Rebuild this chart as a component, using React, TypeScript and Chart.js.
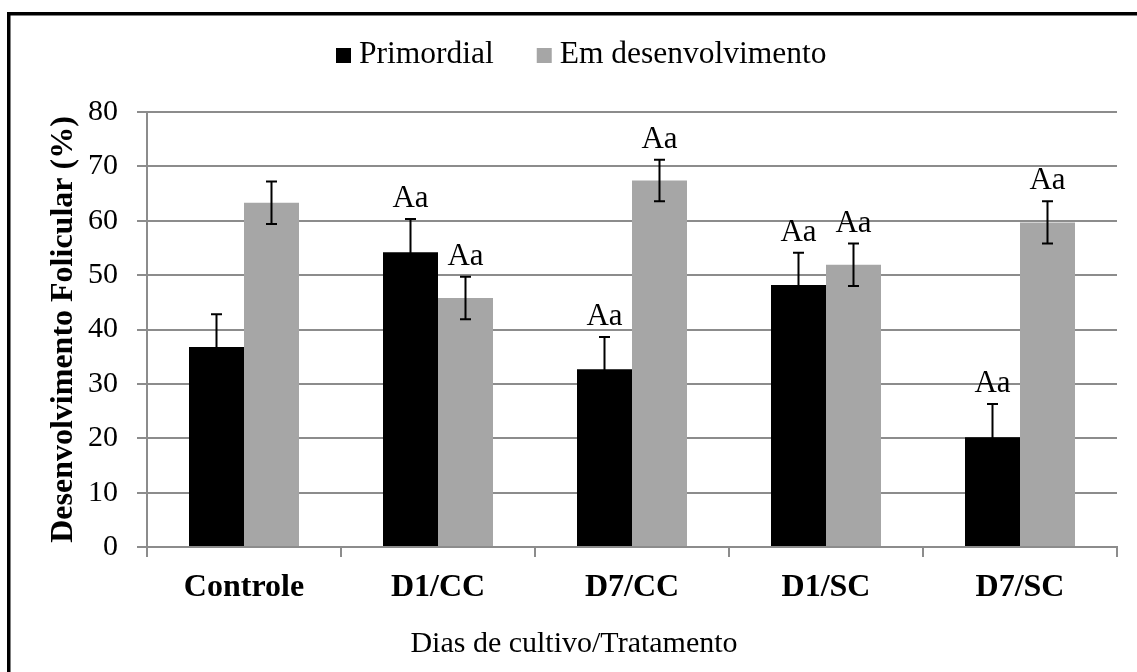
import React, { useEffect, useRef } from 'react';
import { Chart, registerables } from 'chart.js';

Chart.register(...registerables);

const categories = ['Controle', 'D1/CC', 'D7/CC', 'D1/SC', 'D7/SC'];
const seriesNames = ['Primordial', 'Em desenvolvimento'];
const primordial = [36.8, 54.2, 32.7, 48.2, 20.2];
const primordialErr = [6.0, 6.1, 5.9, 5.9, 6.1];
const emDesenvolvimento = [63.3, 45.8, 67.4, 51.9, 59.7];
const emDesenvolvimentoErr = [3.9, 3.9, 3.8, 3.9, 3.9];
const primordialLabels = ['', 'Aa', 'Aa', 'Aa', 'Aa'];
const emDesenvolvimentoLabels = ['', 'Aa', 'Aa', 'Aa', 'Aa'];
const yMin = 0;
const yMax = 80;
const yStep = 10;
const xTitle = 'Dias de cultivo/Tratamento';
const yTitle = 'Desenvolvimento Folicular (%)';

const seriesColors = ['#000000', '#a6a6a6'];
const errors = [primordialErr, emDesenvolvimentoErr];
const pointLabels = [primordialLabels, emDesenvolvimentoLabels];
const FONT = '"Liberation Serif", "Times New Roman", serif';
const GRID = '#8c8c8c';

const framePlugin = {
  id: 'frame',
  beforeDraw(chart: any) {
    const ctx = chart.ctx;
    ctx.save();
    ctx.fillStyle = '#ffffff';
    ctx.fillRect(0, 0, chart.width, chart.height);
    ctx.fillStyle = '#000000';
    ctx.fillRect(7, 12, 3.5, chart.height);
    ctx.fillRect(7, 12, chart.width, 3.5);
    ctx.restore();
  },
};

const annotPlugin = {
  id: 'annot',
  afterDatasetsDraw(chart: any) {
    const ctx = chart.ctx;
    const y = chart.scales.y;
    chart.data.datasets.forEach((ds: any, di: number) => {
      const meta = chart.getDatasetMeta(di);
      meta.data.forEach((bar: any, i: number) => {
        const v = ds.data[i];
        const e = errors[di][i];
        const x = bar.x;
        const yt = y.getPixelForValue(v + e);
        const yb = y.getPixelForValue(v - e);
        ctx.save();
        ctx.strokeStyle = '#000000';
        ctx.lineWidth = 2;
        ctx.beginPath();
        ctx.moveTo(x, yt);
        ctx.lineTo(x, yb);
        ctx.moveTo(x - 5.5, yt);
        ctx.lineTo(x + 5.5, yt);
        ctx.moveTo(x - 5.5, yb);
        ctx.lineTo(x + 5.5, yb);
        ctx.stroke();
        const lab = pointLabels[di][i];
        if (lab) {
          ctx.font = `31px ${FONT}`;
          ctx.fillStyle = '#000000';
          ctx.textAlign = 'center';
          ctx.textBaseline = 'alphabetic';
          ctx.fillText(lab, x, yt - 12);
        }
        ctx.restore();
      });
    });
  },
  afterDraw(chart: any) {
    const ctx = chart.ctx;
    ctx.save();
    ctx.font = `31.5px ${FONT}`;
    ctx.textAlign = 'left';
    ctx.textBaseline = 'alphabetic';
    let x = 336;
    chart.data.datasets.forEach((ds: any) => {
      ctx.fillStyle = ds.backgroundColor;
      ctx.fillRect(x, 48, 15, 15);
      ctx.fillStyle = '#000000';
      ctx.fillText(ds.label, x + 23, 63);
      x = x + 23 + ctx.measureText(ds.label).width + 43;
    });
    ctx.font = `30px ${FONT}`;
    ctx.textAlign = 'center';
    ctx.fillText(xTitle, 574, 652);
    ctx.restore();
  },
};

export default function App() {
  const ref = useRef<HTMLCanvasElement | null>(null);
  useEffect(() => {
    if (!ref.current) return;
    const chart = new Chart(ref.current, {
      type: 'bar',
      data: {
        labels: categories,
        datasets: [
          {
            label: seriesNames[0],
            data: primordial,
            backgroundColor: seriesColors[0],
            categoryPercentage: 0.567,
            barPercentage: 1,
          },
          {
            label: seriesNames[1],
            data: emDesenvolvimento,
            backgroundColor: seriesColors[1],
            categoryPercentage: 0.567,
            barPercentage: 1,
          },
        ],
      },
      options: {
        responsive: false,
        animation: false,
        devicePixelRatio: 1,
        layout: { padding: { left: 42, right: 20, top: 112, bottom: 8 } },
        plugins: {
          legend: { display: false },
          tooltip: { enabled: false },
        },
        scales: {
          x: {
            afterFit: (s: any) => {
              s.height = 117;
            },
            grid: {
              display: true,
              drawOnChartArea: false,
              drawTicks: true,
              tickLength: 10,
              offset: true,
              color: GRID,
              lineWidth: 2,
            },
            border: { display: true, color: GRID, width: 2 },
            ticks: {
              color: '#000000',
              padding: 12,
              font: { family: FONT, size: 32, weight: 'bold' },
            },
          },
          y: {
            min: yMin,
            max: yMax,
            afterFit: (s: any) => {
              s.width = 105;
            },
            grid: {
              color: GRID,
              lineWidth: 2,
              drawTicks: true,
              tickLength: 10,
            },
            border: { display: true, color: GRID, width: 2 },
            ticks: {
              stepSize: yStep,
              color: '#000000',
              padding: 19,
              font: { family: FONT, size: 30 },
            },
            title: {
              display: true,
              text: yTitle,
              color: '#000000',
              padding: { top: 3, bottom: 4 },
              font: { family: FONT, size: 32, weight: 'bold' },
            },
          },
        },
      },
      plugins: [framePlugin, annotPlugin],
    } as any);
    return () => chart.destroy();
  }, []);
  return (
    <div
      style={{
        position: 'absolute',
        left: 0,
        top: 0,
        width: 1137,
        height: 672,
        overflow: 'hidden',
      }}
    >
      <canvas ref={ref} width={1137} height={672} style={{ display: 'block' }} />
    </div>
  );
}
